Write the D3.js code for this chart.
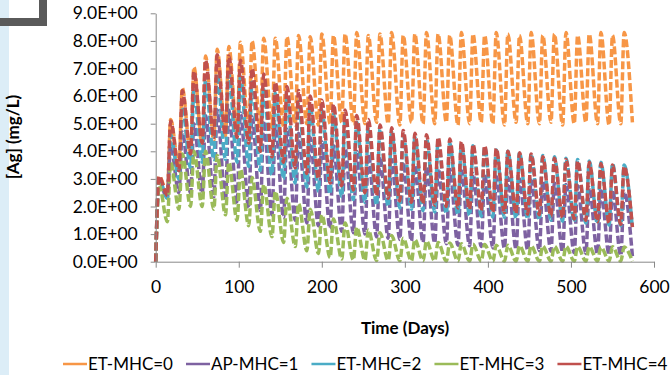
<!DOCTYPE html>
<html>
<head>
<meta charset="utf-8">
<script src="https://cdn.jsdelivr.net/npm/d3@7"></script>
<style>
html,body{margin:0;padding:0;background:#fff;}
svg{display:block;font-family:Lato,"Open Sans",sans-serif;}
</style>
</head>
<body>
<svg id="chart" width="672" height="375"></svg>
<script>
// ---- data ----
const seriesNames = ["ET-MHC=0","AP-MHC=1","ET-MHC=2","ET-MHC=3","ET-MHC=4"];
const seriesColors = ["#F79646","#7E62A1","#4BACC6","#9BBB59","#C0504D"];

// time points: start, then (peak, trough) for each 14-day cycle
const days = [0,4,14,18,28,32,42,46,56,60,70,74,84,88,98,102,112,116,126,130,140,144,154,158,168,172,182,186,196,200,210,214,224,228,238,242,252,256,266,270,280,284,294,298,308,312,322,326,336,340,350,354,364,368,378,382,392,396,406,410,420,424,434,438,448,452,462,466,476,480,490,494,504,508,518,522,532,536,546,550,560,564,574];

const startValue = 0;

const peaksET0 = [3.1,5.15,6.3,7.05,7.45,7.7,7.8,7.95,8.0,8.1,8.1,8.15,8.2,8.15,8.25,8.2,8.25,8.3,8.2,8.25,8.3,8.2,8.25,8.3,8.25,8.2,8.3,8.25,8.2,8.3,8.25,8.2,8.3,8.2,8.25,8.3,8.2,8.25,8.3,8.2,8.3];
const troughsET0 = [2.5,3.4,3.9,4.2,4.4,4.55,4.65,4.75,4.8,4.85,4.9,4.95,5.0,4.95,5.0,5.05,5.0,5.0,5.05,5.0,4.95,5.05,5.0,5.0,5.05,4.95,5.0,5.05,5.0,4.95,5.05,5.0,5.0,5.05,4.95,5.0,5.05,5.0,4.95,5.0,5.05];

const peaksAP1 = [2.9,4.2,4.7,5.0,5.3,5.5,5.5,5.4,5.25,5.1,4.95,4.8,4.65,4.5,4.35,4.2,4.1,4.0,3.9,3.8,3.7,3.6,3.5,3.45,3.4,3.35,3.3,3.2,3.15,3.1,3.05,3.0,2.95,2.9,2.85,2.8,2.75,2.7,2.65,2.6,2.55];
const troughsAP1 = [2.3,2.5,2.5,2.45,2.35,2.2,2.1,1.95,1.85,1.7,1.6,1.5,1.4,1.3,1.2,1.1,1.05,1.0,0.9,0.85,0.8,0.75,0.7,0.68,0.65,0.6,0.58,0.55,0.5,0.48,0.45,0.42,0.4,0.38,0.35,0.32,0.3,0.28,0.25,0.22,0.2];

const peaksET2 = [3.0,4.6,5.6,6.2,6.6,6.8,6.8,6.7,6.5,6.3,6.1,5.95,5.8,5.65,5.5,5.35,5.2,5.05,4.9,4.8,4.7,4.6,4.5,4.45,4.4,4.3,4.25,4.2,4.15,4.05,4.0,3.95,3.9,3.85,3.8,3.75,3.7,3.65,3.6,3.55,3.5];
const troughsET2 = [2.3,3.0,3.4,3.6,3.7,3.7,3.6,3.45,3.3,3.15,3.0,2.85,2.7,2.55,2.45,2.35,2.25,2.15,2.05,2.0,1.95,1.9,1.85,1.8,1.75,1.7,1.68,1.65,1.62,1.6,1.57,1.55,1.52,1.5,1.47,1.44,1.4,1.37,1.33,1.3,1.2];

const peaksET3 = [2.8,3.6,3.9,4.0,4.0,3.85,3.6,3.35,3.05,2.8,2.55,2.3,2.1,1.9,1.7,1.55,1.4,1.25,1.15,1.05,0.95,0.85,0.8,0.75,0.7,0.68,0.65,0.63,0.62,0.6,0.6,0.58,0.58,0.57,0.56,0.56,0.55,0.55,0.54,0.54,0.53];
const troughsET3 = [1.45,1.9,2.0,2.0,1.9,1.7,1.5,1.3,1.1,0.9,0.7,0.55,0.4,0.3,0.15,0.1,0.06,0.05,0.04,0.04,0.03,0.03,0.03,0.03,0.02,0.02,0.02,0.02,0.02,0.02,0.02,0.02,0.02,0.02,0.02,0.02,0.02,0.02,0.02,0.02,0.02];

const peaksET4 = [3.1,5.1,6.2,6.9,7.3,7.5,7.45,7.3,7.0,6.8,6.5,6.35,6.2,6.0,5.85,5.7,5.5,5.3,5.15,4.95,4.85,4.75,4.65,4.6,4.5,4.45,4.35,4.25,4.2,4.1,4.0,3.95,3.9,3.8,3.75,3.7,3.65,3.6,3.55,3.5,3.45];
const troughsET4 = [2.4,3.3,3.9,4.3,4.5,4.6,4.5,4.3,4.0,3.8,3.6,3.4,3.2,3.0,2.85,2.75,2.6,2.5,2.4,2.3,2.2,2.15,2.1,2.05,2.0,1.95,1.9,1.85,1.8,1.78,1.75,1.72,1.7,1.65,1.6,1.55,1.5,1.45,1.4,1.35,1.25];

const xTicks = [0,100,200,300,400,500,600];
const yTicks = [0,1,2,3,4,5,6,7,8,9];
const yTickLabels = ["0.0E+00","1.0E+00","2.0E+00","3.0E+00","4.0E+00","5.0E+00","6.0E+00","7.0E+00","8.0E+00","9.0E+00"];

// ---- build ----
const peakSets = [peaksET0,peaksAP1,peaksET2,peaksET3,peaksET4];
const troughSets = [troughsET0,troughsAP1,troughsET2,troughsET3,troughsET4];
const series = seriesNames.map((name,i)=>{
  const vals=[startValue];
  peakSets[i].forEach((p,k)=>{vals.push(p); vals.push(troughSets[i][k]);});
  return {name, color:seriesColors[i], points: days.map((d,j)=>({x:d,y:vals[j]}))};
});

const svg = d3.select("#chart");
// decorations
svg.append("rect").attr("x",0).attr("y",0).attr("width",9).attr("height",375).attr("fill","#DCEDF7");
svg.append("rect").attr("x",39).attr("y",0).attr("width",8).attr("height",26).attr("fill","#5A5A5A");
svg.append("rect").attr("x",0).attr("y",18).attr("width",47).attr("height",8).attr("fill","#5A5A5A");

const x = d3.scaleLinear().domain([0,600]).range([155.7,654]);
const y = d3.scaleLinear().domain([0,9]).range([261.7,13.3]);
const axisColor = "#898989";

const lineGen = d3.line().x(d=>x(d.x)).y(d=>y(d.y)).curve(d3.curveMonotoneX);
const gLines = svg.append("g");
series.forEach(s=>{
  gLines.append("path").datum(s.points)
    .attr("d",lineGen).attr("fill","none")
    .attr("stroke",s.color).attr("stroke-width",3.5)
    .attr("stroke-dasharray","8,3").attr("stroke-linejoin","round");
});

const yAxis = svg.append("g").attr("transform","translate(155.7,0)")
  .call(d3.axisLeft(y).tickValues(yTicks).tickFormat((d,i)=>yTickLabels[i]).tickSize(5).tickSizeOuter(0).tickPadding(13));
const xAxis = svg.append("g").attr("transform","translate(0,261.7)")
  .call(d3.axisBottom(x).tickValues(xTicks).tickFormat(d3.format("d")).tickSize(6).tickSizeOuter(0).tickPadding(13));
[yAxis,xAxis].forEach(g=>{
  g.selectAll("path,line").attr("stroke",axisColor);
  g.selectAll("text").attr("fill","#000").style("font-size","17.5px").style("font-family","Lato,sans-serif");
});

svg.append("text").attr("x",405).attr("y",334).attr("text-anchor","middle")
  .style("font-weight","bold").style("font-size","17px").text("Time (Days)");
svg.append("text").attr("transform","translate(19,137) rotate(-90)").attr("text-anchor","middle")
  .style("font-weight","bold").style("font-size","17px").text("[Ag] (mg/L)");

// legend
const lg = svg.append("g");
let lx = 63;
series.forEach(s=>{
  lg.append("line").attr("x1",lx).attr("x2",lx+24).attr("y1",364).attr("y2",364)
    .attr("stroke",s.color).attr("stroke-width",2.5);
  const t = lg.append("text").attr("x",lx+25).attr("y",370).style("font-size","17px").text(s.name);
  lx += 25 + t.node().getComputedTextLength() + 13;
});
</script>
</body>
</html>
